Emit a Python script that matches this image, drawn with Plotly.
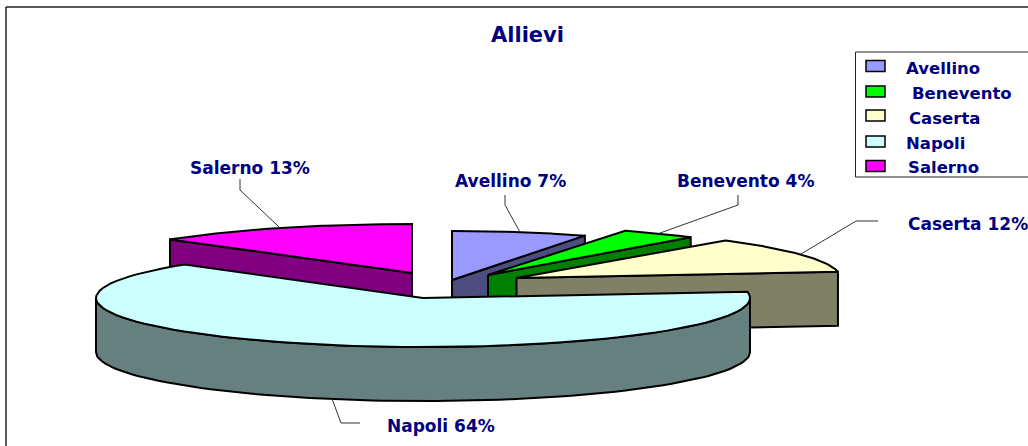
import math
import plotly.graph_objects as go

# ---- data ----
categories = ["Avellino", "Benevento", "Caserta", "Napoli", "Salerno"]
percent = [7, 4, 12, 64, 13]
top_colors = ["#9999FF", "#00FF00", "#FFFFCC", "#CCFFFF", "#FF00FF"]
side_colors = ["#4D4D80", "#008000", "#808066", "#668080", "#800080"]

# ---- pie geometry (pixels of the 1028x446 canvas) ----
RX = [312, 318, 324, 327, 332]            # per slice, the original has perspective
RY, DEPTH = 49, 54
apex_x = [452, 488, 516.5, 423, 412]      # exploded slice apexes
apex_y = [280, 275, 278, 298, 273]
draw_order = [0, 1, 2, 4, 3]
NAVY = "#000080"
FONT = "DejaVu Sans"

# label positions and leader elbows
label_x = [453, 675, 906, 385, 188]
label_y = [181, 181, 224, 426, 168]
leader_dx = [0, 0, 0, 10, 0]
elbow_a = [(505, 205), (738, 205), (856, 221), (341, 423), (240, 190)]
elbow_b = [(505, 195), (738, 195), (878, 221), (360, 423), (240, 179)]
legend_label_x = [904, 910, 907, 904, 906]
legend_label_y = [68, 93, 118, 143, 167]
legend_key_y = [66, 91.5, 115.5, 141.5, 166]

total = sum(percent)
starts, s = [], 0.0
for p in percent:
    starts.append(s)
    s += p / total * 2 * math.pi
ends = [a + p / total * 2 * math.pi for a, p in zip(starts, percent)]


def rim(i, t, dy=0.0):
    return apex_x[i] + RX[i] * math.sin(t), apex_y[i] - RY * math.cos(t) + dy


def arc(i, t0, t1, dy=0.0, n=80):
    pts = [rim(i, t0 + (t1 - t0) * k / n, dy) for k in range(n + 1)]
    return pts


fig = go.Figure()


def poly(pts, fill):
    fig.add_trace(go.Scatter(
        x=[p[0] for p in pts] + [pts[0][0]],
        y=[p[1] for p in pts] + [pts[0][1]],
        mode="lines", fill="toself", fillcolor=fill,
        line=dict(color="black", width=2), hoverinfo="skip", showlegend=False))


for i in draw_order:
    ax, ay = apex_x[i], apex_y[i]
    t0, t1 = starts[i], ends[i]
    if categories[i] == "Napoli":
        # outer wall facing the viewer: right extreme to left extreme
        a0, a1 = math.pi / 2, 3 * math.pi / 2
        poly(arc(i, a0, a1) + arc(i, a0, a1, DEPTH)[::-1], side_colors[i])
    elif categories[i] == "Salerno":
        # radial wall on the starting side
        e = rim(i, t0)
        poly([(ax, ay), e, (e[0], e[1] + DEPTH), (ax, ay + DEPTH)], side_colors[i])
    else:
        # radial wall on the ending side
        e = rim(i, t1)
        poly([(ax, ay), e, (e[0], e[1] + DEPTH), (ax, ay + DEPTH)], side_colors[i])
    poly([(ax, ay)] + arc(i, t0, t1), top_colors[i])

# leader lines, starting from the rim at each slice's mid angle
for i, (a, b) in enumerate(zip(elbow_a, elbow_b)):
    mid = (starts[i] + ends[i]) / 2
    start = rim(i, mid, DEPTH if categories[i] == "Napoli" else 0)
    fig.add_trace(go.Scatter(
        x=[start[0] + leader_dx[i], a[0], b[0]], y=[start[1], a[1], b[1]], mode="lines",
        line=dict(color="#333333", width=1), hoverinfo="skip", showlegend=False))

shapes = [
    dict(type="line", x0=6, x1=6, y0=7, y1=446, line=dict(color="#222222", width=1.5)),
    dict(type="line", x0=6, x1=1028, y0=7, y1=7, line=dict(color="#222222", width=1.5)),
    dict(type="rect", x0=855.5, x1=1040, y0=52, y1=177, fillcolor="white",
         line=dict(color="#222222", width=1)),
]
for c, ky in zip(top_colors, legend_key_y):
    shapes.append(dict(type="rect", x0=866, x1=885, y0=ky - 5.5, y1=ky + 5.5,
                       fillcolor=c, line=dict(color="black", width=1.5)))

annotations = [dict(x=527, y=35, text="<b>Allievi</b>", showarrow=False, xanchor="center",
                    yanchor="middle", font=dict(family=FONT, size=21, color=NAVY))]
for c, p, x, y in zip(categories, percent, label_x, label_y):
    annotations.append(dict(x=x, y=y, text=f"<b>{c} {p}%</b>", showarrow=False, xanchor="left",
                            yanchor="middle", font=dict(family=FONT, size=17, color=NAVY)))
for c, x, y in zip(categories, legend_label_x, legend_label_y):
    annotations.append(dict(x=x, y=y, text=f"<b>{c}</b>", showarrow=False, xanchor="left",
                            yanchor="middle", font=dict(family=FONT, size=16.5, color=NAVY)))

fig.update_layout(
    width=1028, height=446, margin=dict(l=0, r=0, t=0, b=0),
    paper_bgcolor="white", plot_bgcolor="white", showlegend=False,
    xaxis=dict(range=[0, 1028], visible=False, fixedrange=True),
    yaxis=dict(range=[446, 0], visible=False, fixedrange=True),
    shapes=shapes, annotations=annotations,
)
fig.write_html("out.html", config={"displayModeBar": False},
               post_script="document.body.style.margin='0';document.body.style.overflow='hidden';")
